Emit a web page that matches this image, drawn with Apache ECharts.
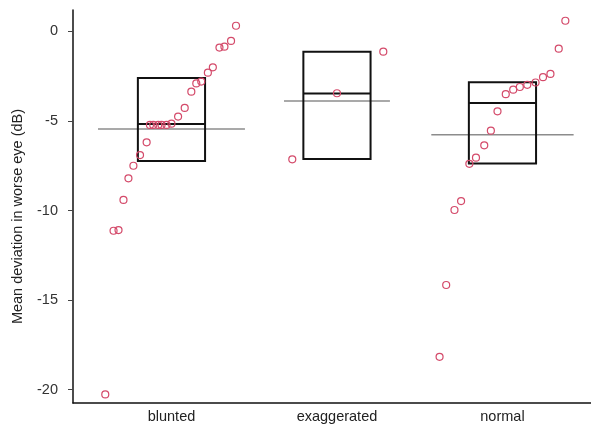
<!DOCTYPE html>
<html>
<head>
<meta charset="utf-8">
<script src="https://cdn.jsdelivr.net/npm/echarts@6/dist/echarts.min.js"></script>
<style>html,body{margin:0;padding:0;background:#fff}#c{width:591px;height:426px}</style>
</head>
<body>
<div id="c"></div>
<script>
// categories
var categories = ['blunted', 'exaggerated', 'normal'];
var yTicks = [0, -5, -10, -15, -20];

// individual observations (value in dB) and their horizontal jitter (in category units)
var bluntedValues = [0.32, -0.53, -0.85, -0.9, -2.0, -2.3, -2.8, -2.9, -3.36, -4.27, -4.75, -5.15, -5.22, -5.22, -5.22, -5.22, -5.22, -6.19, -6.9, -7.5, -8.2, -9.41, -11.09, -11.13, -20.27];
var bluntedJitter = [0.39, 0.36, 0.32, 0.29, 0.25, 0.22, 0.18, 0.15, 0.12, 0.08, 0.04, 0.00, -0.03, -0.06, -0.08, -0.11, -0.13, -0.15, -0.19, -0.23, -0.26, -0.29, -0.32, -0.35, -0.40];
var exaggeratedValues = [-1.13, -3.45, -7.14];
var exaggeratedJitter = [0.28, 0.0, -0.27];
var normalValues = [0.6, -0.96, -2.37, -2.55, -2.85, -2.98, -3.1, -3.25, -3.5, -4.46, -5.54, -6.36, -7.05, -7.39, -9.47, -9.97, -14.16, -18.17];
var normalJitter = [0.38, 0.34, 0.29, 0.245, 0.20, 0.15, 0.105, 0.065, 0.02, -0.03, -0.07, -0.11, -0.16, -0.20, -0.25, -0.29, -0.34, -0.38];

// box summaries per category: upper quartile, median, lower quartile, mean
var boxUpper = [-2.6, -1.13, -2.83];
var boxMedian = [-5.17, -3.47, -4.0];
var boxLower = [-7.23, -7.12, -7.37];
var groupMean = [-5.45, -3.88, -5.77];
var meanSpan = [0.444, 0.32, 0.43];

var groups = [
  {v: bluntedValues, j: bluntedJitter},
  {v: exaggeratedValues, j: exaggeratedJitter},
  {v: normalValues, j: normalJitter}
];
var points = [];
groups.forEach(function (g, gi) {
  g.v.forEach(function (val, k) { points.push([gi + 1 + g.j[k], val]); });
});
var boxData = categories.map(function (c, i) {
  return [i + 1, boxUpper[i], boxMedian[i], boxLower[i], groupMean[i], meanSpan[i]];
});

var chart = echarts.init(document.getElementById('c'), null, {renderer: 'canvas'});
var font = 'Liberation Sans, Arial, Helvetica, sans-serif';
chart.setOption({
  animation: false,
  backgroundColor: '#fff',
  grid: {left: 73, right: 0, top: 10, bottom: 23, containLabel: false, outerBoundsMode: 'none'},
  xAxis: {
    type: 'value', min: 0.405, max: 3.535,
    axisLine: {show: true, onZero: false, lineStyle: {color: '#111', width: 1.5}},
    axisTick: {show: false},
    splitLine: {show: false},
    axisLabel: {
      customValues: [1, 2, 3],
      formatter: function (v) { return categories[Math.round(v) - 1] || ''; },
      color: '#222', fontSize: 14.5, fontFamily: font, margin: 6
    }
  },
  yAxis: {
    type: 'value', min: -20.75, max: 1.2,
    name: 'Mean deviation in worse eye (dB)', nameLocation: 'middle', nameGap: 48,
    nameTextStyle: {color: '#222', fontSize: 14.5, fontFamily: font, padding: [0, 20, 0, 0]},
    axisLine: {show: true, onZero: false, lineStyle: {color: '#111', width: 1.5}},
    axisTick: {show: true, customValues: yTicks, length: 5, lineStyle: {color: '#444'}},
    axisLabel: {customValues: yTicks, color: '#333', fontSize: 14.5, fontFamily: font, margin: 15},
    splitLine: {show: false}
  },
  series: [
    {
      type: 'custom',
      data: boxData,
      z: 2,
      renderItem: function (params, api) {
        var x = api.value(0), hw = 0.203, ms = api.value(5);
        var tl = api.coord([x - hw, api.value(1)]);
        var br = api.coord([x + hw, api.value(3)]);
        var ml = api.coord([x - hw, api.value(2)]);
        var mr = api.coord([x + hw, api.value(2)]);
        var al = api.coord([x - ms, api.value(4)]);
        var ar = api.coord([x + ms, api.value(4)]);
        return {
          type: 'group',
          children: [
            {type: 'line', shape: {x1: al[0], y1: al[1], x2: ar[0], y2: ar[1]}, style: {stroke: '#8c8c8c', lineWidth: 1.5}},
            {type: 'rect', shape: {x: tl[0], y: tl[1], width: br[0] - tl[0], height: br[1] - tl[1]}, style: {fill: 'none', stroke: '#111', lineWidth: 2}},
            {type: 'line', shape: {x1: ml[0], y1: ml[1], x2: mr[0], y2: mr[1]}, style: {stroke: '#111', lineWidth: 2}}
          ]
        };
      }
    },
    {
      type: 'scatter',
      data: points,
      z: 3,
      symbol: 'circle',
      symbolSize: 7,
      itemStyle: {color: 'rgba(255,255,255,0)', borderColor: '#d44a6a', borderWidth: 1.2, opacity: 1}
    }
  ]
});
</script>
</body>
</html>
